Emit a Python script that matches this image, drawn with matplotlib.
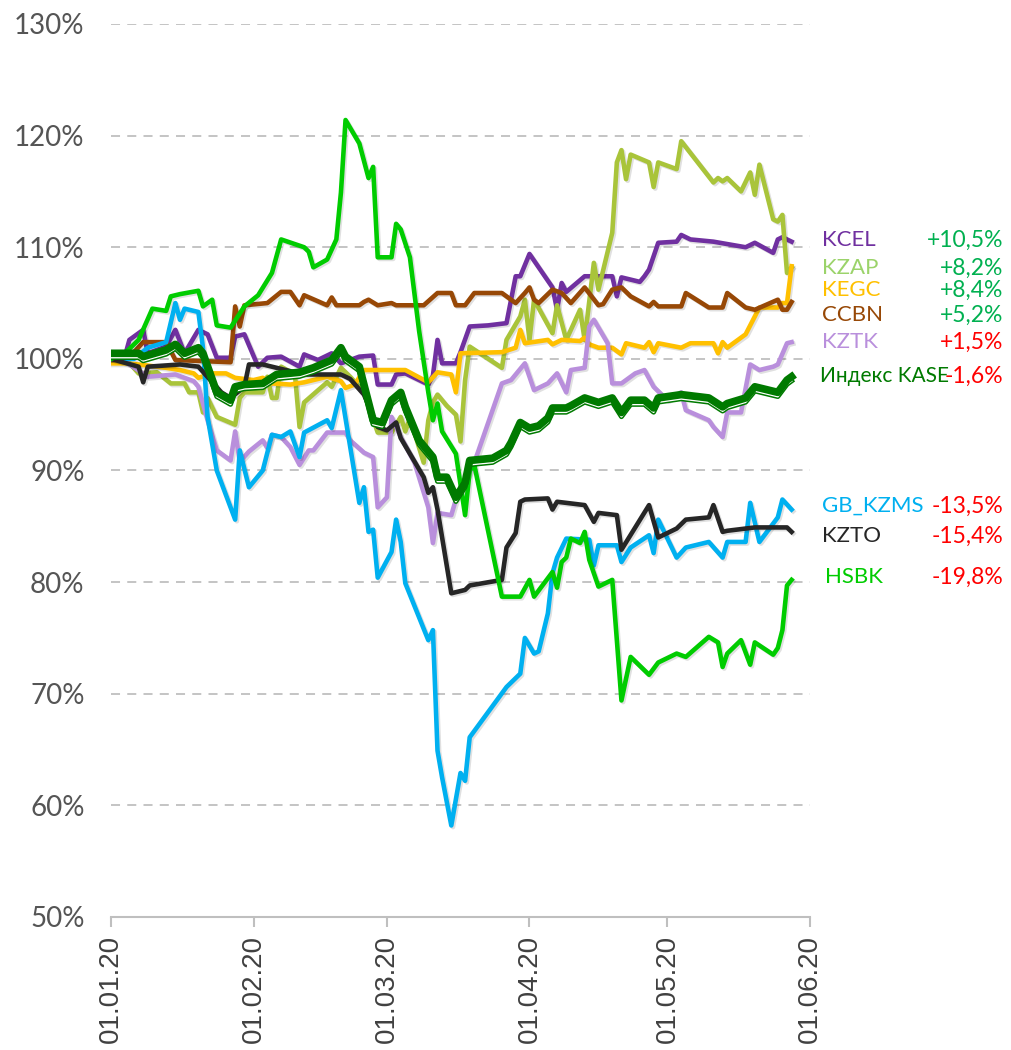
import numpy as np
import matplotlib
matplotlib.use("Agg")
import matplotlib.pyplot as plt
import matplotlib.dates as mdates
import matplotlib.patheffects as pe

# days counted from 01.01.2020, values in % of the 01.01.2020 level
kcel_days = [0, 3, 4, 7, 8, 12, 14, 16, 19, 21, 23, 26, 27, 29, 32, 34, 37, 41, 42, 45, 48, 50, 54, 57, 58,
             61, 62, 64, 69, 70, 71, 72, 75, 76, 78, 82, 86, 88, 89, 91, 96, 97, 98, 99, 103, 106, 109, 110,
             111, 115, 116, 117, 119, 123, 124, 126, 131, 138, 140, 144, 145, 146, 148]
kcel_vals = [100.2, 100.2, 101.7, 102.6, 100.5, 101.1, 102.6, 100.5, 102.6, 102.2, 100.1, 100.1, 102.0, 102.2,
             99.3, 100.1, 100.2, 99.3, 100.4, 99.9, 100.5, 99.6, 100.2, 100.3, 97.7, 97.7, 98.6, 98.7, 97.7,
             98.5, 101.7, 99.6, 99.6, 100.6, 102.9, 103.0, 103.2, 107.4, 107.4, 109.4, 106.4, 104.4, 106.8,
             106.0, 107.4, 107.4, 107.4, 105.6, 107.3, 106.9, 107.4, 108.0, 110.4, 110.5, 111.1, 110.7, 110.5,
             110.0, 110.4, 109.5, 110.7, 110.9, 110.5]

kzap_days = [0, 3, 6, 10, 13, 16, 17, 19, 20, 21, 23, 27, 28, 29, 33, 34, 35, 36, 37, 40, 41, 42, 47, 48, 50,
             52, 55, 58, 61, 63, 64, 65, 68, 69, 70, 71, 73, 75, 76, 77, 78, 85, 86, 89, 90, 91, 92, 96, 97, 99,
             102, 103, 105, 106, 109, 110, 111, 112, 113, 117, 118, 119, 123, 124, 131, 132, 133, 134, 137, 139,
             140, 141, 144, 145, 146, 147, 148]
kzap_vals = [100.1, 100.1, 98.7, 98.8, 97.8, 97.8, 97.0, 97.0, 95.2, 96.5, 94.8, 94.1, 96.5, 97.0, 97.0, 98.4,
             96.5, 96.5, 99.3, 98.6, 93.9, 96.1, 97.9, 97.5, 99.2, 98.4, 97.0, 93.4, 93.4, 94.8, 93.5, 94.7, 90.7,
             94.5, 96.1, 96.8, 95.8, 95.0, 92.6, 98.1, 101.1, 99.2, 101.7, 103.8, 105.3, 101.7, 105.3, 102.3,
             104.8, 101.7, 104.4, 101.7, 108.6, 106.2, 111.3, 117.6, 118.7, 116.1, 118.3, 117.6, 115.4, 117.6,
             117.0, 119.5, 115.8, 116.2, 115.9, 116.2, 115.0, 116.7, 114.7, 117.4, 112.5, 112.3, 112.9, 107.7,
             108.2]

kegc_days = [0, 3, 6, 12, 15, 18, 19, 22, 25, 27, 31, 33, 35, 39, 42, 47, 50, 51, 53, 55, 64, 69, 71, 74, 75,
             76, 85, 88, 89, 90, 95, 96, 98, 102, 103, 104, 106, 109, 111, 112, 116, 117, 118, 119, 124, 126,
             131, 132, 133, 134, 138, 141, 144, 145, 146, 147, 148]
kegc_vals = [99.6, 99.6, 99.5, 99.2, 99.0, 98.7, 98.3, 98.7, 98.7, 98.3, 98.1, 98.3, 97.8, 97.7, 97.9, 98.4,
             98.0, 97.4, 97.7, 99.0, 99.0, 97.9, 98.8, 98.6, 97.0, 100.5, 100.6, 101.0, 102.6, 101.4, 101.7,
             101.3, 101.7, 101.6, 101.9, 101.3, 101.0, 101.0, 100.4, 101.4, 101.0, 101.5, 100.6, 101.4, 101.0,
             101.4, 101.4, 100.5, 101.5, 101.0, 102.2, 104.6, 104.6, 104.6, 105.0, 105.0, 108.3]

ccbn_days = [0, 5, 7, 12, 14, 26, 27, 28, 29, 34, 37, 39, 41, 42, 47, 48, 49, 54, 55, 56, 58, 61, 62, 68, 71,
             74, 75, 77, 79, 85, 88, 90, 91, 92, 93, 96, 98, 100, 103, 106, 107, 109, 111, 113, 117, 118, 119,
             124, 125, 130, 133, 134, 138, 140, 145, 146, 147, 148]
ccbn_vals = [100.2, 100.6, 101.5, 101.5, 99.9, 99.7, 104.7, 102.9, 104.8, 105.0, 106.0, 106.0, 104.8, 105.7,
             104.8, 105.5, 104.8, 104.8, 105.1, 105.3, 104.8, 105.0, 104.8, 104.8, 105.9, 105.9, 104.8, 104.8,
             105.9, 105.9, 105.0, 105.9, 106.4, 105.3, 105.0, 106.2, 105.9, 105.0, 106.4, 104.8, 104.9, 106.2,
             106.4, 105.6, 104.7, 105.1, 104.7, 104.7, 105.9, 104.6, 104.6, 105.9, 104.6, 104.4, 105.3, 104.4,
             104.4, 105.1]

kztk_days = [0, 3, 8, 14, 18, 19, 21, 23, 26, 27, 28, 30, 33, 34, 35, 37, 39, 41, 43, 44, 47, 51, 52, 55, 57,
             58, 60, 61, 63, 66, 69, 70, 71, 74, 75, 79, 85, 87, 90, 92, 95, 97, 99, 100, 103, 104, 105, 108,
             109, 111, 114, 116, 118, 121, 124, 125, 130, 131, 133, 134, 137, 139, 141, 144, 145, 147, 148]
kztk_vals = [100.0, 99.8, 98.4, 98.6, 98.0, 97.5, 94.5, 91.8, 90.9, 93.5, 90.8, 91.7, 92.7, 92.0, 93.2, 93.0,
             92.1, 90.5, 91.8, 91.8, 93.4, 93.4, 92.7, 91.6, 91.2, 86.7, 87.6, 94.8, 93.0, 90.7, 86.7, 83.5, 86.2,
             86.0, 87.4, 90.7, 97.8, 98.1, 99.6, 97.2, 97.8, 98.7, 97.0, 99.0, 99.2, 102.9, 103.5, 101.4, 97.8,
             97.8, 98.7, 99.0, 97.5, 96.3, 97.0, 95.4, 94.5, 93.9, 93.0, 95.2, 95.2, 99.5, 99.0, 99.3, 99.5, 101.4,
             101.5]

kzms_days = [0, 5, 8, 12, 14, 15, 16, 19, 20, 21, 23, 27, 28, 30, 33, 35, 37, 39, 41, 42, 47, 48, 50, 54, 55,
             56, 57, 58, 61, 62, 63, 64, 69, 70, 71, 72, 74, 76, 77, 78, 86, 89, 90, 92, 93, 95, 96, 97, 99, 104,
             105, 106, 110, 111, 113, 117, 118, 119, 123, 125, 130, 133, 134, 138, 139, 141, 145, 146, 148]
kzms_vals = [100.0, 100.0, 101.0, 101.5, 105.0, 103.5, 104.5, 104.2, 101.0, 94.8, 90.0, 85.6, 91.8, 88.5, 90.0,
             93.2, 93.0, 93.5, 91.2, 93.4, 94.5, 93.8, 97.2, 87.1, 88.5, 84.5, 84.7, 80.4, 82.7, 85.6, 83.6, 79.9,
             74.8, 75.7, 64.9, 62.5, 58.2, 62.9, 62.2, 66.1, 70.6, 71.8, 75.0, 73.6, 73.8, 77.2, 80.8, 82.2, 83.9,
             83.8, 81.5, 83.3, 83.3, 81.8, 83.1, 84.2, 82.6, 85.6, 82.2, 83.1, 83.6, 82.2, 83.6, 83.6, 87.1, 83.6,
             85.8, 87.4, 86.5]

kzto_days = [0, 6, 7, 8, 15, 19, 24, 26, 29, 30, 33, 38, 42, 50, 52, 55, 58, 60, 62, 63, 68, 69, 70, 71, 74,
             77, 78, 85, 86, 88, 89, 90, 95, 96, 97, 103, 105, 106, 110, 111, 117, 119, 123, 125, 130, 131, 133,
             134, 140, 147, 148]
kzto_vals = [100.0, 99.3, 97.9, 99.3, 99.5, 99.3, 97.0, 96.5, 97.5, 99.5, 99.5, 99.0, 98.6, 98.6, 98.2, 96.8,
             93.9, 93.6, 94.3, 92.9, 89.4, 88.0, 88.5, 86.5, 79.0, 79.3, 79.7, 80.2, 83.1, 84.4, 87.2, 87.4, 87.5,
             86.5, 87.2, 86.9, 85.4, 86.2, 86.0, 82.9, 86.9, 84.0, 84.8, 85.6, 85.8, 86.9, 84.5, 84.6, 84.9, 84.9,
             84.5]

hsbk_days = [0, 3, 6, 9, 12, 13, 15, 19, 20, 22, 23, 26, 29, 32, 35, 37, 42, 43, 44, 47, 49, 50, 51, 54, 56,
             57, 58, 61, 62, 63, 65, 67, 69, 70, 71, 72, 75, 77, 78, 79, 85, 89, 91, 92, 96, 97, 98, 99, 100, 102,
             103, 104, 106, 109, 111, 113, 117, 119, 123, 125, 130, 132, 133, 134, 137, 139, 140, 144, 145, 146,
             147, 148]
hsbk_vals = [100.0, 100.5, 101.7, 104.5, 104.3, 105.6, 105.8, 106.1, 104.7, 105.3, 103.0, 102.8, 104.7, 105.7,
             107.7, 110.7, 110.0, 109.6, 108.2, 108.9, 110.7, 114.9, 121.4, 119.3, 116.2, 117.2, 109.1, 109.1,
             112.1, 111.6, 109.1, 102.5, 97.0, 94.5, 96.0, 93.5, 91.5, 86.0, 90.0, 90.5, 78.7, 78.7, 80.2, 78.7,
             80.9, 79.5, 81.8, 82.2, 83.9, 83.5, 84.5, 82.0, 79.6, 80.2, 69.4, 73.3, 71.7, 72.8, 73.6, 73.3, 75.1,
             74.6, 72.4, 73.6, 74.8, 72.6, 74.6, 73.5, 74.1, 75.7, 79.7, 80.2]

kase_days = [0, 6, 7, 12, 14, 16, 19, 20, 23, 26, 27, 29, 33, 36, 41, 44, 48, 50, 51, 54, 57, 59, 61, 63, 64,
             67, 70, 71, 73, 75, 77, 78, 83, 86, 87, 89, 91, 93, 95, 96, 99, 100, 103, 106, 109, 111, 113, 116,
             118, 119, 124, 130, 133, 134, 138, 140, 145, 147, 148]
kase_vals = [100.5, 100.5, 100.2, 100.8, 101.3, 100.5, 101.0, 100.5, 97.0, 96.3, 97.5, 97.7, 97.8, 98.6, 98.8,
             99.2, 99.9, 101.0, 100.2, 99.3, 94.5, 94.3, 96.3, 97.0, 95.7, 92.7, 91.2, 89.4, 89.4, 87.6, 88.9,
             90.9, 91.1, 91.8, 92.5, 94.3, 93.8, 94.0, 94.7, 95.6, 95.6, 95.8, 96.5, 96.1, 96.5, 95.2, 96.3, 96.3,
             95.6, 96.5, 96.8, 96.5, 95.7, 96.0, 96.5, 97.5, 97.0, 98.1, 98.4]

names = ["KCEL", "KZAP", "KEGC", "CCBN", "KZTK", "Индекс KASE", "GB_KZMS", "KZTO", "HSBK"]
changes = ["+10,5%", "+8,2%", "+8,4%", "+5,2%", "+1,5%", "-1,6%", "-13,5%", "-15,4%", "-19,8%"]

colors = {
    "KCEL": "#7030a0", "KZAP": "#a9c43a", "KEGC": "#ffc000", "CCBN": "#974806",
    "KZTK": "#b98fdc", "GB_KZMS": "#00b0f0", "KZTO": "#262626", "HSBK": "#00cc00",
    "Индекс KASE": "#007a00",
}
label_colors = dict(colors, KZAP="#9bd36a")
change_colors = ["#00b050", "#00b050", "#00b050", "#00b050", "#ff0000", "#ff0000", "#ff0000", "#ff0000",
                 "#ff0000"]

base = np.datetime64("2020-01-01")


def to_dates(days):
    return base + np.array(days).astype("timedelta64[D]")


fig = plt.figure(figsize=(10.11, 10.5), dpi=100)
ax = fig.add_axes([111 / 1011, 133 / 1050, 699 / 1011, 893 / 1050])

shadow = [pe.SimpleLineShadow(offset=(1.2, -1.2), shadow_color="k", alpha=0.12), pe.Normal()]

series = [
    ("KCEL", kcel_days, kcel_vals),
    ("KZAP", kzap_days, kzap_vals),
    ("KEGC", kegc_days, kegc_vals),
    ("CCBN", ccbn_days, ccbn_vals),
    ("KZTK", kztk_days, kztk_vals),
    ("GB_KZMS", kzms_days, kzms_vals),
    ("KZTO", kzto_days, kzto_vals),
    ("HSBK", hsbk_days, hsbk_vals),
]
for name, d, v in series:
    ax.plot(to_dates(d), v, color=colors[name], lw=3.3, solid_joinstyle="round",
            path_effects=shadow, zorder=3)

# index line with its double outline below
kc = colors["Индекс KASE"]
ax.plot(to_dates(kase_days), kase_vals, color=kc, lw=5.5, zorder=4,
        path_effects=[pe.Stroke(offset=(0, -3), linewidth=3.6, foreground=kc),
                      pe.Stroke(offset=(0, -3), linewidth=1.4, foreground="white"),
                      pe.Normal()])

ax.set_xlim(np.datetime64("2020-01-01"), np.datetime64("2020-06-01"))
ax.set_ylim(50, 130)
ax.set_yticks(np.arange(50, 131, 10))
ax.set_yticklabels([f"{t}%" for t in range(50, 131, 10)])
ax.xaxis.set_major_locator(mdates.MonthLocator())
ax.xaxis.set_major_formatter(mdates.DateFormatter("%d.%m.%y"))

ax.grid(axis="y", color="#bfbfbf", lw=1.3, ls=(0, (5, 4)))
ax.set_axisbelow(True)
for s in ["top", "right", "left"]:
    ax.spines[s].set_visible(False)
ax.spines["bottom"].set_color("#bfbfbf")
ax.spines["bottom"].set_linewidth(1.5)
ax.tick_params(axis="y", length=0, pad=19, labelsize=20, labelcolor="#555555")
ax.tick_params(axis="x", length=7, width=1.5, color="#bfbfbf", pad=6, labelsize=20,
               labelcolor="#404040", labelrotation=90)
for lab in ax.get_yticklabels():
    lab.set_fontfamily("Lato")
for lab in ax.get_xticklabels():
    lab.set_fontfamily("Liberation Sans")

name_y = [240, 268, 290, 315, 342, 376, 506, 536, 577]
name_x = [822, 822, 822, 822, 822, 820, 822, 822, 825]
for n, c, yy, xx, cc in zip(names, changes, name_y, name_x, change_colors):
    fs = 16 if n != "Индекс KASE" else 15
    fig.text(xx / 1011, 1 - yy / 1050, n, color=label_colors[n], fontsize=fs, family="Lato",
             ha="left", va="center")
    fig.text(1003 / 1011, 1 - yy / 1050, c, color=cc, fontsize=16.5, family="Lato",
             ha="right", va="center")

fig.savefig("out.png", dpi=100)
